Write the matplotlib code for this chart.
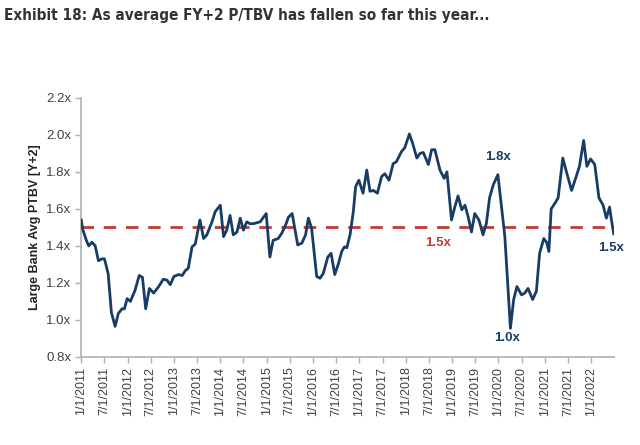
import matplotlib
matplotlib.use('Agg')
import matplotlib.pyplot as plt

# data (x = decimal year, y = P/TBV multiple)
years = [2011.00, 2011.03, 2011.11, 2011.16, 2011.23, 2011.30, 2011.37, 2011.45, 2011.50,
         2011.58, 2011.65, 2011.73, 2011.80, 2011.88, 2011.93, 2011.99, 2012.06, 2012.16,
         2012.25, 2012.32, 2012.39, 2012.47, 2012.56, 2012.67, 2012.77, 2012.85, 2012.92,
         2013.00, 2013.10, 2013.18, 2013.24, 2013.31, 2013.39, 2013.46, 2013.56, 2013.64,
         2013.71, 2013.82, 2013.89, 2014.00, 2014.07, 2014.14, 2014.21, 2014.28, 2014.36,
         2014.43, 2014.50, 2014.57, 2014.64, 2014.71, 2014.86, 2014.99, 2015.07, 2015.14,
         2015.25, 2015.33, 2015.42, 2015.47, 2015.55, 2015.67, 2015.76, 2015.84, 2015.90,
         2015.97, 2016.08, 2016.15, 2016.22, 2016.32, 2016.39, 2016.47, 2016.55, 2016.62,
         2016.68, 2016.73, 2016.80, 2016.87, 2016.92, 2016.99, 2017.08, 2017.16, 2017.23,
         2017.30, 2017.39, 2017.48, 2017.55, 2017.64, 2017.73, 2017.80, 2017.91, 2017.98,
         2018.08, 2018.15, 2018.24, 2018.31, 2018.38, 2018.49, 2018.56, 2018.63, 2018.74,
         2018.83, 2018.89, 2018.99, 2019.06, 2019.13, 2019.21, 2019.28, 2019.35, 2019.42,
         2019.49, 2019.58, 2019.67, 2019.74, 2019.81, 2019.89, 2019.99, 2020.14, 2020.21,
         2020.26, 2020.33, 2020.40, 2020.50, 2020.57, 2020.64, 2020.74, 2020.82, 2020.89,
         2020.98, 2021.04, 2021.09, 2021.14, 2021.22, 2021.29, 2021.39, 2021.48, 2021.58,
         2021.68, 2021.75, 2021.84, 2021.91, 2021.99, 2022.08, 2022.17, 2022.26, 2022.33,
         2022.40, 2022.44, 2022.49]
ptbv = [1.54, 1.49, 1.43, 1.40, 1.42, 1.40, 1.32, 1.33, 1.33,
        1.25, 1.04, 0.965, 1.035, 1.06, 1.06, 1.115, 1.10, 1.16,
        1.24, 1.23, 1.06, 1.17, 1.145, 1.18, 1.22, 1.215, 1.19,
        1.235, 1.245, 1.24, 1.265, 1.28, 1.395, 1.41, 1.54, 1.44,
        1.46, 1.53, 1.585, 1.62, 1.45, 1.485, 1.565, 1.46, 1.475,
        1.55, 1.485, 1.53, 1.52, 1.52, 1.53, 1.575, 1.34, 1.43,
        1.44, 1.47, 1.52, 1.555, 1.575, 1.405, 1.415, 1.46, 1.55,
        1.495, 1.235, 1.225, 1.25, 1.34, 1.36, 1.245, 1.305, 1.37,
        1.395, 1.39, 1.46, 1.585, 1.72, 1.755, 1.685, 1.81, 1.695,
        1.70, 1.685, 1.775, 1.79, 1.755, 1.845, 1.855, 1.91, 1.93,
        2.005, 1.955, 1.875, 1.90, 1.905, 1.84, 1.92, 1.92, 1.81,
        1.765, 1.80, 1.54, 1.61, 1.67, 1.595, 1.62, 1.555, 1.475,
        1.575, 1.54, 1.46, 1.52, 1.66, 1.73, 1.785, 1.45, 1.16,
        0.955, 1.11, 1.18, 1.135, 1.145, 1.17, 1.11, 1.155, 1.36,
        1.44, 1.42, 1.37, 1.60, 1.63, 1.66, 1.875, 1.79, 1.70,
        1.775, 1.83, 1.97, 1.83, 1.87, 1.84, 1.66, 1.62, 1.55,
        1.61, 1.54, 1.465]
avg_level = 1.5
y_ticks = [0.8, 1.0, 1.2, 1.4, 1.6, 1.8, 2.0, 2.2]
x_ticks = [2011 + 0.5 * i for i in range(23)]
x_labels = [('1' if i % 2 == 0 else '7') + '/1/' + str(2011 + i // 2) for i in range(23)]

navy = '#173d66'
red = '#c23b37'
grey_txt = '#404040'

plt.rcParams['font.family'] = ['Liberation Sans', 'DejaVu Sans']

fig = plt.figure(figsize=(6.4, 4.45), dpi=100)
ax = fig.add_axes([0.127, 0.198, 0.832, 0.582])

ax.axhline(avg_level, color=red, lw=2.0, dashes=(4.5, 3.5), zorder=2)
ax.plot(years, ptbv, color=navy, lw=2.0, zorder=3, solid_joinstyle='round')

ax.set_xlim(2011.0, 2022.49)
ax.set_ylim(0.8, 2.2)
ax.set_yticks(y_ticks)
ax.set_yticklabels(['%.1fx' % v for v in y_ticks], fontsize=9.5, color=grey_txt)
ax.set_xticks(x_ticks)
ax.set_xticklabels(x_labels, rotation=90, fontsize=9, color=grey_txt)
ax.tick_params(axis='both', length=4, width=1, color='#b0b0b0', pad=3)

for s in ['top', 'right']:
    ax.spines[s].set_visible(False)
for s in ['left', 'bottom']:
    ax.spines[s].set_color('#b0b0b0')
    ax.spines[s].set_linewidth(1.2)

ax.set_ylabel('Large Bank Avg PTBV [Y+2]', fontsize=9, fontweight='bold', color='#222222', labelpad=4)

# annotations
ax.text(2019.99, 1.879, '1.8x', color=navy, fontsize=9.5, fontweight='bold', ha='center', va='center')
ax.text(2018.70, 1.415, '1.5x', color=red, fontsize=9.5, fontweight='bold', ha='center', va='center')
ax.text(2020.19, 0.901, '1.0x', color=navy, fontsize=9.5, fontweight='bold', ha='center', va='center')
ax.text(2022.44, 1.388, '1.5x', color=navy, fontsize=9.5, fontweight='bold', ha='center', va='center')

# title: narrow bold face, squeezed as far as the installed fonts allow
fig.text(0.006, 0.966, 'Exhibit 18: As average FY+2 P/TBV has fallen so far this year...',
         fontsize=11, fontweight='bold', fontstretch='condensed', color='#333333',
         ha='left', va='center', family=['DejaVu Sans'])

fig.savefig('out.png', dpi=100)
